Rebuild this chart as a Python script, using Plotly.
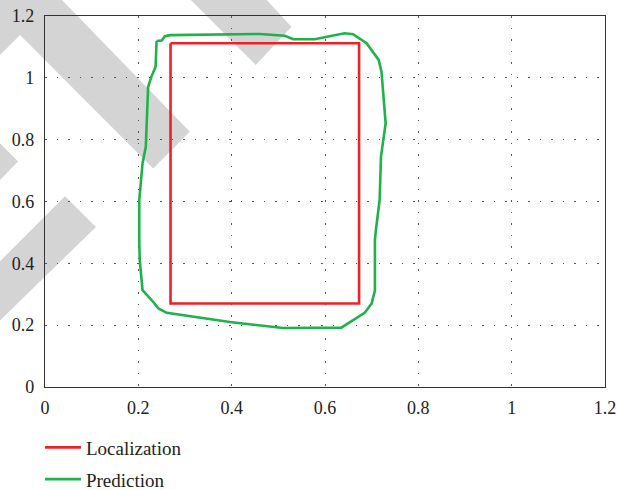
import plotly.graph_objects as go

# ---- data ----
loc_x = [0.269, 0.673, 0.673, 0.269, 0.269]
loc_y = [1.112, 1.112, 0.270, 0.270, 1.112]

pred_x = [0.239, 0.250, 0.257, 0.268, 0.460, 0.514, 0.532, 0.578, 0.642, 0.660,
          0.689, 0.715, 0.721, 0.730, 0.720, 0.717, 0.709, 0.707, 0.707, 0.700,
          0.685, 0.635, 0.510, 0.396, 0.261, 0.243, 0.232, 0.209, 0.203, 0.202,
          0.202, 0.209, 0.216, 0.221, 0.228, 0.237, 0.239]
pred_y = [1.119, 1.121, 1.135, 1.138, 1.142, 1.136, 1.125, 1.125, 1.144, 1.141,
          1.112, 1.058, 1.020, 0.853, 0.745, 0.604, 0.507, 0.475, 0.313, 0.270,
          0.240, 0.192, 0.191, 0.210, 0.240, 0.254, 0.275, 0.313, 0.410, 0.475,
          0.604, 0.723, 0.777, 0.971, 1.004, 1.036, 1.119]

tick_vals = [0, 0.2, 0.4, 0.6, 0.8, 1.0, 1.2]
tick_text = ["0", "0.2", "0.4", "0.6", "0.8", "1", "1.2"]

W, H = 617, 490
ML, MR, MT, MB = 45, 11.5, 16, 103.3
PW, PH = W - ML - MR, H - MT - MB

def px2paper(px, py):
    return (px - ML) / PW, (H - MB - py) / PH

def path(pts):
    s = ""
    for i, (px, py) in enumerate(pts):
        x, y = px2paper(px, py)
        s += ("M" if i == 0 else "L") + f"{x:.4f},{y:.4f} "
    return s + "Z"

# decorative watermark bands (pixel outlines)
bands = [
    [(60, -2), (190, 131.7), (153.3, 168.3), (20, 35), (-5, 60), (-5, -2)],
    [(189, -2), (265, -2), (291.7, 26.7), (256, 65)],
    [(65, 196), (96, 226.7), (-5, 325), (-5, 266)],
    [(-5, 138), (18, 161.5), (-5, 185)],
]

fig = go.Figure()
fig.add_trace(go.Scatter(x=loc_x, y=loc_y, mode="lines", name="Localization",
                         line=dict(color="#ee2029", width=2.6), legendgroup="a"))
fig.add_trace(go.Scatter(x=pred_x, y=pred_y, mode="lines", name="Prediction",
                         line=dict(color="#1fb24b", width=2.6), legendgroup="b"))

shapes = [dict(type="path", xref="paper", yref="paper", path=path(b),
               fillcolor="#d4d4d4", line=dict(width=0), layer="below") for b in bands]

axis_common = dict(range=[0, 1.2], tickvals=tick_vals, ticktext=tick_text,
                   showgrid=True, gridcolor="#555555", gridwidth=1,
                   griddash="1.5px,10px", showline=True, linecolor="#333333",
                   linewidth=1.3, mirror=True, zeroline=False, ticks="",
                   tickfont=dict(family="Liberation Serif", size=18, color="#222222"))

fig.update_layout(
    width=W, height=H,
    margin=dict(l=ML, r=MR, t=MT, b=MB, autoexpand=False),
    paper_bgcolor="white", plot_bgcolor="rgba(0,0,0,0)",
    xaxis=dict(**axis_common, ticklabelstandoff=4),
    yaxis=dict(**axis_common, ticklabelstandoff=6),
    shapes=shapes,
    showlegend=True,
    legend=dict(x=-0.009, xanchor="left", y=-0.112, yanchor="top",
                orientation="v", traceorder="grouped", tracegroupgap=4,
                itemwidth=36,
                font=dict(family="Liberation Serif", size=19, color="#222222"),
                bgcolor="rgba(0,0,0,0)", borderwidth=0),
)

fig.write_html("out.html")
